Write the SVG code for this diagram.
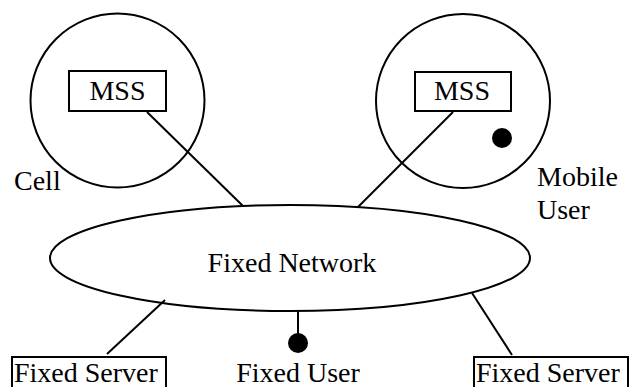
<svg xmlns="http://www.w3.org/2000/svg" width="635" height="387" viewBox="0 0 635 387">
<style>
.s{fill:none;stroke:#000;stroke-width:2}
.t{font-family:'Liberation Serif',serif;font-size:28px;fill:#000}
.m{text-anchor:middle}
.d{fill:#000}
</style>
<rect width="635" height="387" fill="#fff"/>
<g id="cell-left">
<circle class="s" cx="117.5" cy="100.5" r="87"/>
<text class="t" x="14" y="190">Cell</text>
</g>
<g id="cell-right">
<circle class="s" cx="463" cy="101" r="87"/>
</g>
<g id="mss-left">
<rect class="s" x="69" y="71" width="97" height="40"/>
<text class="t m" x="117.5" y="100">MSS</text>
</g>
<g id="mss-right">
<rect class="s" x="415" y="72" width="96" height="39"/>
<text class="t m" x="462" y="100">MSS</text>
</g>
<g id="mobile-user">
<circle class="d" cx="502" cy="138" r="10"/>
<text class="t" x="537" y="186">Mobile</text>
<text class="t" x="537" y="219">User</text>
</g>
<g id="fixed-network">
<ellipse class="s" cx="290" cy="258" rx="240" ry="53"/>
<text class="t m" x="292" y="272">Fixed Network</text>
</g>
<g id="fixed-user">
<circle class="d" cx="298" cy="343" r="10"/>
<text class="t m" x="298" y="382">Fixed User</text>
</g>
<g id="fixed-server-left">
<rect class="s" x="12" y="357" width="154" height="40"/>
<text class="t" x="14" y="382">Fixed Server</text>
</g>
<g id="fixed-server-right">
<rect class="s" x="474" y="357" width="154" height="40"/>
<text class="t" x="476" y="382">Fixed Server</text>
</g>
<g id="connectors">
<line class="s" x1="147" y1="112" x2="243" y2="206"/>
<line class="s" x1="453" y1="112" x2="358" y2="207"/>
<line class="s" x1="107" y1="354" x2="165" y2="300"/>
<line class="s" x1="298" y1="311" x2="298" y2="335"/>
<line class="s" x1="472" y1="293" x2="512" y2="355"/>
</g>
</svg>
